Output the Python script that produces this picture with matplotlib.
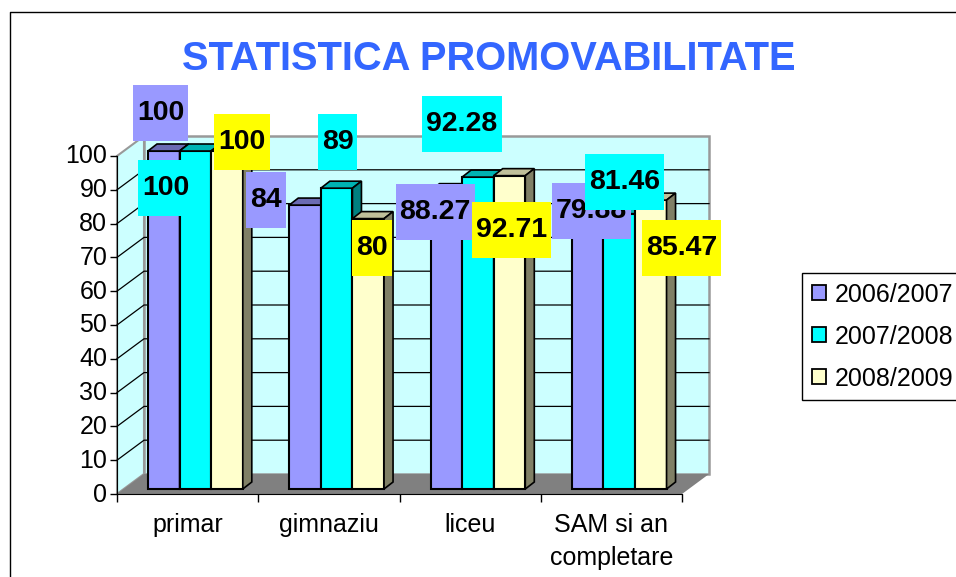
import matplotlib
matplotlib.use('Agg')
import matplotlib.pyplot as plt
from matplotlib.lines import Line2D
from matplotlib.patches import Patch, Polygon
from matplotlib.path import Path
from matplotlib.transforms import ScaledTranslation

plt.rcParams['font.family'] = ['Liberation Sans', 'DejaVu Sans']

categories = ['primar', 'gimnaziu', 'liceu', 'SAM si an\ncompletare']
series_names = ['2006/2007', '2007/2008', '2008/2009']
values_2006 = [100, 84, 88.27, 79.88]
values_2007 = [100, 89, 92.28, 81.46]
values_2008 = [100, 80, 92.71, 85.47]
y_ticks = [0, 10, 20, 30, 40, 50, 60, 70, 80, 90, 100]

# hand placed data labels, pixel offset from the top of each bar
label_offsets = [
    [(-3, 38), (-39, 5), (-11, -21), (4, 8)],
    [(-30, -37), (1, 46), (-16, 53), (5, 32)],
    [(15, 9), (4, -29), (2, -54), (31, -48)],
]

front = ['#9999FF', '#00FFFF', '#FFFFCC']
top = ['#6B6BB3', '#00B3B3', '#C0C09A']
side = ['#4C4C80', '#008080', '#808066']
wall = '#CCFFFF'
W, H = 956, 577

# axes = front plane of the 3d box
fig = plt.figure(figsize=(W / 100, H / 100), dpi=100)
ax = fig.add_axes([117 / W, (H - 494) / H, 565 / W, 338 / H])
ax.set_xlim(0, 4)
ax.set_ylim(0, 100)
ax.patch.set_visible(False)

px_x = 141.25
px_y = 3.38
wall_dx = 27 / px_x
wall_dy = 20 / px_y
bar_dy = 5 / px_y
bar_w = 31.6 / px_x
bar_start = 31 / px_x
depth_x = 9 / px_x
depth_y = 7 / px_y


def poly(pts, fc, ec='none', lw=0, z=1):
    ax.add_patch(Polygon(pts, closed=True, facecolor=fc, edgecolor=ec, linewidth=lw,
                         zorder=z, clip_on=False))


# walls and floor
poly([(0, 0), (wall_dx, wall_dy), (wall_dx, 100 + wall_dy), (0, 100)], wall, '#999999', 1.5)
poly([(wall_dx, wall_dy), (4 + wall_dx, wall_dy), (4 + wall_dx, 100 + wall_dy), (wall_dx, 100 + wall_dy)],
     wall, '#999999', 1.8)
for t in y_ticks[1:-1]:
    ax.plot([0, wall_dx, 4 + wall_dx], [t, t + wall_dy, t + wall_dy], color='black', lw=0.9,
            zorder=2, clip_on=False)
poly([(0, 0), (wall_dx, wall_dy), (4 + wall_dx, wall_dy), (4, 0)], '#808080', z=3)

# bars
all_values = [values_2006, values_2007, values_2008]
for j, vals in enumerate(all_values):
    xs = [i + bar_start + j * bar_w for i in range(len(vals))]
    ax.bar(xs, vals, width=bar_w, bottom=bar_dy, align='edge', color=front[j], edgecolor='black',
           linewidth=1.5, zorder=5 + j, clip_on=False)
    for x, v in zip(xs, vals):
        y1 = v + bar_dy
        poly([(x, y1), (x + depth_x, y1 + depth_y), (x + bar_w + depth_x, y1 + depth_y), (x + bar_w, y1)],
             top[j], 'black', 1.2, 5 + j)
        poly([(x + bar_w, bar_dy), (x + bar_w + depth_x, bar_dy + depth_y),
              (x + bar_w + depth_x, y1 + depth_y), (x + bar_w, y1)], side[j], 'black', 1.2, 5 + j)


def label_box(x0, y0, width, height, mutation_size):
    # excel label boxes are much taller than the text
    pad_x, pad_y = 4, 15
    x0, x1 = x0 - pad_x, x0 + width + pad_x
    y0, y1 = y0 - pad_y, y0 + height + pad_y
    return Path([(x0, y0), (x1, y0), (x1, y1), (x0, y1), (x0, y0)], closed=True)


# data labels
label_fill = ['#9999FF', '#00FFFF', '#FFFF00']
for j, vals in enumerate(all_values):
    for i, v in enumerate(vals):
        x = i + bar_start + (j + 0.5) * bar_w
        ax.annotate(f'{v:g}', xy=(x, v + bar_dy), xytext=label_offsets[j][i], textcoords='offset pixels',
                    ha='center', va='center', fontsize=20.5, fontweight='bold', color='black',
                    zorder=20 + j, annotation_clip=False,
                    bbox=dict(boxstyle=label_box, facecolor=label_fill[j], edgecolor='none'))

# axes
for name in ['top', 'right']:
    ax.spines[name].set_visible(False)
ax.spines['left'].set_zorder(4)
ax.spines['bottom'].set_zorder(4)
ax.set_yticks(y_ticks)
ax.set_xticks(range(5))
ax.set_xticklabels([])
ax.set_xticks([i + 0.5 for i in range(4)], categories, minor=True)
ax.tick_params(axis='y', labelsize=18, length=5, width=1, pad=2)
ax.tick_params(axis='x', which='major', length=6, width=1)
ax.tick_params(axis='x', which='minor', length=0, labelsize=18, pad=14)
for lab in ax.get_xticklabels(minor=True):
    lab.set_linespacing(1.45)
# y labels sit a little above their ticks in the original
up = ScaledTranslation(0, 2 / 100, fig.dpi_scale_trans)
for lab in ax.get_yticklabels():
    lab.set_transform(lab.get_transform() + up)

fig.text(488.5 / W, 1 - 59 / H, 'STATISTICA PROMOVABILITATE', ha='center', va='center',
         fontsize=28.7, fontweight='bold', color='#3366FF')

# outer chart frame, runs off the image
fig.add_artist(Line2D([10 / W, 10 / W, 1], [0, 1 - 12 / H, 1 - 12 / H], color='black', lw=1))

handles = [Patch(facecolor=c, edgecolor='black', linewidth=1.3) for c in front]
leg = fig.legend(handles, series_names, loc='upper left', bbox_to_anchor=(802 / W, 1 - 273 / H),
                 borderaxespad=0, fontsize=18, handlelength=0.56, handleheight=0.56, handletextpad=0.35,
                 labelspacing=0.72, borderpad=0.38, fancybox=False, framealpha=1, edgecolor='black')
leg.get_frame().set_linewidth(1)

fig.savefig('out.png', dpi=100)
